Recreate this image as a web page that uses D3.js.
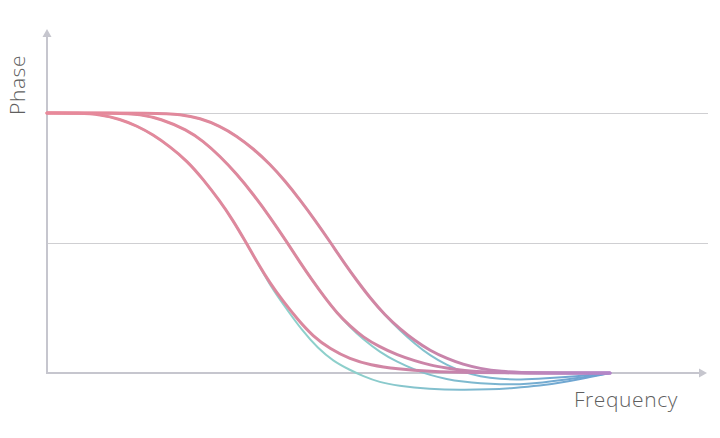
<!DOCTYPE html>
<html>
<head>
<meta charset="utf-8">
<script src="https://cdn.jsdelivr.net/npm/d3@7"></script>
<style>
  html, body { margin: 0; padding: 0; background: #fff; }
  svg { display: block; }
</style>
</head>
<body>
<svg id="chart" width="720" height="438"></svg>
<script>
// ---- data (frequency in arbitrary units 0..10, phase in degrees) ----
const gridValues = [0, -90];            // horizontal reference lines (no labels shown)
const xLabel = "Frequency";
const yLabel = "Phase";

const pink1 = [[0,0],[0.59,0],[0.94,-1.0],[1.30,-4.2],[1.60,-9.0],[1.88,-14.9],[2.18,-23.2],[2.49,-33.2],[2.77,-45.7],[3.07,-60.9],[3.30,-74.1],[3.52,-88.6],[3.75,-104.5],[3.96,-117.7],[4.19,-130.2],[4.46,-143.3],[4.72,-154.4],[5.03,-163.4],[5.38,-170.3],[5.74,-174.5],[6.22,-177.2],[6.80,-179.0],[7.51,-179.8],[8.40,-180],[10,-180]];
const pink2 = [[0,0],[1.30,0],[1.65,-1.0],[2.01,-3.8],[2.49,-11.8],[2.77,-19.4],[3.07,-29.8],[3.37,-42.2],[3.66,-56.1],[3.96,-72.0],[4.26,-89.3],[4.49,-103.2],[4.72,-116.3],[4.94,-128.1],[5.15,-138.5],[5.38,-147.5],[5.61,-155.1],[5.91,-162.0],[6.22,-167.5],[6.54,-171.7],[6.80,-174.5],[7.10,-176.5],[7.39,-178.3],[7.87,-179.5],[8.40,-180],[10,-180]];
const pink3 = [[0,0],[2.01,0],[2.36,-0.9],[2.72,-3.5],[3.07,-9.0],[3.37,-15.9],[3.66,-24.6],[3.96,-35.3],[4.23,-47.1],[4.49,-59.9],[4.76,-74.1],[5.03,-89.3],[5.29,-104.5],[5.51,-116.3],[5.74,-128.1],[6.00,-139.8],[6.27,-149.5],[6.54,-157.8],[6.80,-164.4],[7.10,-170.0],[7.39,-174.1],[7.69,-176.9],[8.05,-179.0],[8.58,-180],[10,-180]];

const teal1 = [[0,0],[0.59,0],[0.94,-1.0],[1.30,-4.2],[1.60,-9.0],[1.88,-14.9],[2.18,-23.2],[2.49,-33.2],[2.77,-45.7],[3.07,-60.9],[3.30,-74.1],[3.52,-88.6],[3.75,-104.5],[3.96,-119.1],[4.19,-132.2],[4.55,-151.6],[4.81,-162.7],[5.08,-171.7],[5.38,-177.9],[5.61,-182.1],[5.91,-186.5],[6.22,-188.8],[6.80,-191.1],[7.34,-191.8],[7.87,-191.4],[8.28,-190.4],[8.76,-188.8],[9.17,-186.5],[9.64,-182.8],[10,-180]];
const teal2 = [[0,0],[1.30,0],[1.65,-1.0],[2.01,-3.8],[2.49,-11.8],[2.77,-19.4],[3.07,-29.8],[3.37,-42.2],[3.66,-56.1],[3.96,-72.0],[4.26,-89.3],[4.49,-103.2],[4.72,-116.3],[4.94,-128.1],[5.15,-138.5],[5.38,-148.2],[5.61,-156.5],[5.91,-165.5],[6.22,-172.4],[6.54,-177.9],[6.80,-181.4],[7.10,-184.3],[7.39,-186.0],[7.69,-187.2],[8.05,-187.9],[8.40,-187.9],[8.76,-186.9],[9.38,-183.8],[10,-180]];
const teal3 = [[0,0],[2.01,0],[2.36,-0.9],[2.72,-3.5],[3.07,-9.0],[3.37,-15.9],[3.66,-24.6],[3.96,-35.3],[4.23,-47.1],[4.49,-59.9],[4.76,-74.1],[5.03,-89.3],[5.29,-104.5],[5.51,-116.3],[5.74,-128.1],[6.00,-139.8],[6.27,-150.6],[6.54,-159.9],[6.80,-167.9],[7.10,-174.5],[7.39,-179.3],[7.69,-182.5],[8.05,-184.3],[8.40,-184.6],[8.85,-183.8],[9.38,-182.5],[10,-180]];

const pinkSeries = [pink1, pink2, pink3];
const tealSeries = [teal1, teal2, teal3];

// ---- layout ----
const svg = d3.select("#chart");
const originX = 47, originY = 373;
const axisEndX = 707, axisTopY = 29;

const x = d3.scaleLinear().domain([0, 10]).range([originX, 610]);
const y = d3.scaleLinear().domain([-180, 0]).range([originY, 113]);

// gradients
const defs = svg.append("defs");
function grad(id, stops) {
  const g = defs.append("linearGradient").attr("id", id)
    .attr("gradientUnits", "userSpaceOnUse")
    .attr("x1", x(0)).attr("x2", x(10)).attr("y1", 0).attr("y2", 0);
  stops.forEach(s => g.append("stop").attr("offset", s[0]).attr("stop-color", s[1]));
}
grad("gPink", [[0, "#e8899a"], [0.45, "#db889e"], [0.7, "#c984a9"], [1, "#b386c8"]]);
grad("gTeal", [[0, "#8fd6cc"], [0.55, "#8dcfcb"], [0.78, "#7cb6d0"], [1, "#6b9fd2"]]);

// gridlines via axis
const grid = svg.append("g")
  .attr("transform", `translate(${originX},0)`)
  .call(d3.axisLeft(y).tickValues(gridValues).tickSize(-(axisEndX + 1 - originX)).tickFormat(""));
grid.select(".domain").remove();
grid.selectAll(".tick line").attr("stroke", "#cfcfd2").attr("stroke-width", 1.2);

// axes lines
const axisColor = "#c6c6ce";
svg.append("line").attr("x1", originX).attr("x2", originX).attr("y1", originY + 1).attr("y2", axisTopY + 6)
  .attr("stroke", axisColor).attr("stroke-width", 2);
svg.append("path").attr("d", `M${originX},${axisTopY} L${originX - 4.5},${axisTopY + 8} L${originX + 4.5},${axisTopY + 8} Z`)
  .attr("fill", axisColor);
svg.append("line").attr("x1", originX - 1).attr("x2", axisEndX - 6).attr("y1", originY).attr("y2", originY)
  .attr("stroke", axisColor).attr("stroke-width", 2);
svg.append("path").attr("d", `M${axisEndX},${originY} L${axisEndX - 8},${originY - 4.5} L${axisEndX - 8},${originY + 4.5} Z`)
  .attr("fill", axisColor);

// curves
const line = d3.line().x(d => x(d[0])).y(d => y(d[1])).curve(d3.curveBasis);

svg.append("g").selectAll("path").data(tealSeries).join("path")
  .attr("d", line).attr("fill", "none").attr("stroke", "url(#gTeal)")
  .attr("stroke-width", 2).attr("stroke-linecap", "round");

svg.append("g").selectAll("path").data(pinkSeries).join("path")
  .attr("d", line).attr("fill", "none").attr("stroke", "url(#gPink)")
  .attr("stroke-width", 3).attr("stroke-linecap", "round");

// labels
svg.append("text").text(xLabel)
  .attr("x", 678).attr("y", 407).attr("text-anchor", "end")
  .attr("font-family", "'Open Sans', sans-serif").attr("font-weight", 300)
  .attr("font-size", 21).attr("fill", "#5f5f5f").attr("letter-spacing", 0.6);

svg.append("text").text(yLabel)
  .attr("transform", "translate(25,115) rotate(-90)")
  .attr("text-anchor", "start")
  .attr("font-family", "'Open Sans', sans-serif").attr("font-weight", 300)
  .attr("font-size", 21).attr("fill", "#5f5f5f").attr("letter-spacing", 0.6);
</script>
</body>
</html>
